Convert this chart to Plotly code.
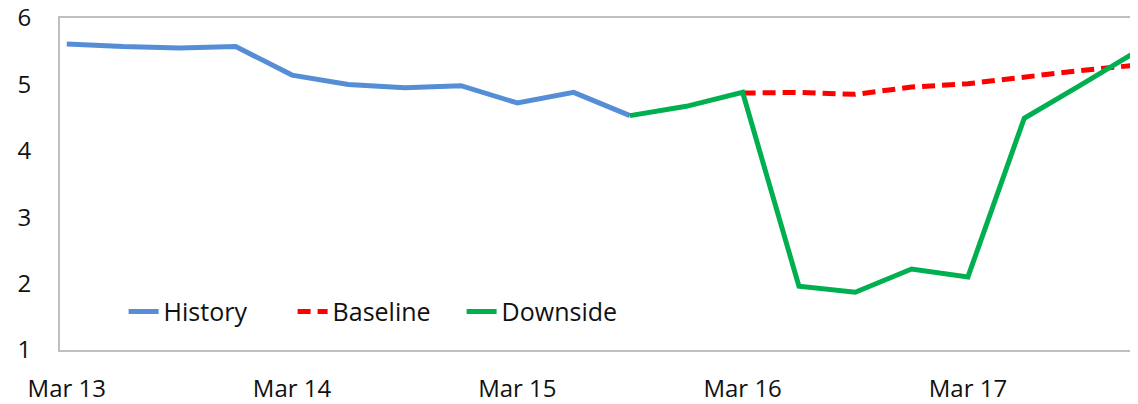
import plotly.graph_objects as go

quarters = ["Mar 13", "Jun 13", "Sep 13", "Dec 13",
            "Mar 14", "Jun 14", "Sep 14", "Dec 14",
            "Mar 15", "Jun 15", "Sep 15", "Dec 15",
            "Mar 16", "Jun 16", "Sep 16", "Dec 16",
            "Mar 17", "Jun 17", "Sep 17", "Dec 17"]

history_x = quarters[0:11]
history_y = [5.61, 5.57, 5.55, 5.57, 5.14, 5.00, 4.95, 4.98, 4.72, 4.88, 4.53]

baseline_x = quarters[12:20]
baseline_y = [4.87, 4.88, 4.85, 4.96, 5.01, 5.11, 5.21, 5.29]

downside_x = quarters[10:20]
downside_y = [4.53, 4.67, 4.88, 1.96, 1.87, 2.22, 2.10, 4.49, 4.99, 5.50]

tick_labels = ["Mar 13", "Mar 14", "Mar 15", "Mar 16", "Mar 17"]

FONT = "Open Sans"

fig = go.Figure()
fig.add_trace(go.Scatter(x=history_x, y=history_y, mode="lines", name="History",
                         line=dict(color="#558ED5", width=5)))
fig.add_trace(go.Scatter(x=baseline_x, y=baseline_y, mode="lines", name="Baseline",
                         line=dict(color="#FF0000", width=5, dash="13px,7px")))
fig.add_trace(go.Scatter(x=downside_x, y=downside_y, mode="lines", name="Downside",
                         line=dict(color="#00B050", width=5)))

fig.update_layout(
    width=1130, height=396,
    margin=dict(l=52, r=0, t=10, b=54, autoexpand=False),
    paper_bgcolor="white", plot_bgcolor="white",
    font=dict(family=FONT, size=24, color="#111111"),
    showlegend=True,
    legend=dict(orientation="h", x=0.059, y=0.115, xanchor="left", yanchor="middle",
                bgcolor="rgba(0,0,0,0)", font=dict(family=FONT, size=25, color="#111111"),
                itemwidth=30, entrywidth=124, entrywidthmode="pixels", tracegroupgap=0),
    xaxis=dict(type="category", categoryorder="array", categoryarray=quarters,
               range=[-0.12, 19.02], showgrid=False, zeroline=False, automargin=False,
               showline=True, linecolor="#BFBFBF", linewidth=2, mirror=True,
               tickmode="array", tickvals=tick_labels, ticktext=tick_labels,
               ticks="outside", ticklen=16, tickcolor="rgba(0,0,0,0)",
               ticklabeloverflow="allow"),
    yaxis=dict(range=[1, 6], dtick=1, showgrid=False, zeroline=False, automargin=False,
               showline=True, linecolor="#BFBFBF", linewidth=2,
               ticks="outside", ticklen=22, tickcolor="rgba(0,0,0,0)",
               ticklabeloverflow="allow"),
)

fig.write_html("out.html")
